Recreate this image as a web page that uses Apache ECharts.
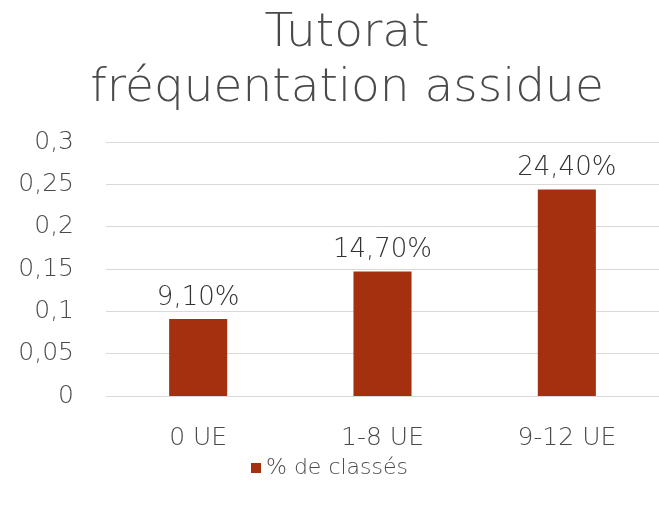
<!DOCTYPE html>
<html>
<head>
<meta charset="utf-8">
<script src="https://cdn.jsdelivr.net/npm/echarts@6/dist/echarts.min.js"></script>
<style>
  html, body { margin: 0; padding: 0; background: #fff; }
  #chart { width: 659px; height: 505px; }
</style>
</head>
<body>
<div id="chart"></div>
<script>
// categories and values
let categories = ['0 UE', '1-8 UE', '9-12 UE'];
let seriesName = '% de classés';
let values = [0.091, 0.147, 0.244];
let yTicks = [0, 0.05, 0.1, 0.15, 0.2, 0.25, 0.3];

let chart = echarts.init(document.getElementById('chart'));
let font = 'DejaVu Sans';
let thin = 200;

chart.setOption({
  animation: false,
  title: {
    text: 'Tutorat\nfréquentation assidue',
    left: 342,
    textAlign: 'center',
    top: 1,
    textStyle: {
      fontFamily: font,
      fontWeight: thin,
      fontSize: 47,
      lineHeight: 55,
      color: '#4a4a4a'
    }
  },
  legend: {
    data: [seriesName],
    bottom: 21,
    left: 'center',
    itemWidth: 10,
    itemHeight: 10,
    itemGap: 5,
    icon: 'rect',
    textStyle: { fontFamily: font, fontWeight: thin, fontSize: 22, color: '#4a4a4a' }
  },
  grid: {
    left: 106,
    right: -4,
    top: 142,
    bottom: 109,
    containLabel: false
  },
  xAxis: {
    type: 'category',
    data: categories,
    axisLine: { show: false },
    axisTick: { show: false },
    axisLabel: { fontFamily: font, fontWeight: thin, fontSize: 25, color: '#4a4a4a', margin: 30 }
  },
  yAxis: {
    type: 'value',
    min: 0,
    max: yTicks[yTicks.length - 1],
    interval: 0.05,
    axisLine: { show: false },
    axisTick: { show: false },
    splitLine: { lineStyle: { color: '#d9d9d9', width: 1 } },
    axisLabel: {
      fontFamily: font, fontWeight: thin, fontSize: 25, color: '#4a4a4a', margin: 32,
      formatter: function (v) { return String(+v.toFixed(2)).replace('.', ','); }
    }
  },
  series: [{
    name: seriesName,
    type: 'bar',
    data: values,
    barWidth: '31.5%',
    itemStyle: { color: '#A5300F' },
    label: {
      show: true,
      position: 'top',
      distance: 8,
      fontFamily: font,
      fontWeight: thin,
      fontSize: 26,
      color: '#333333',
      formatter: function (p) { return (p.value * 100).toFixed(2).replace('.', ',') + '%'; }
    }
  }]
});
</script>
</body>
</html>
